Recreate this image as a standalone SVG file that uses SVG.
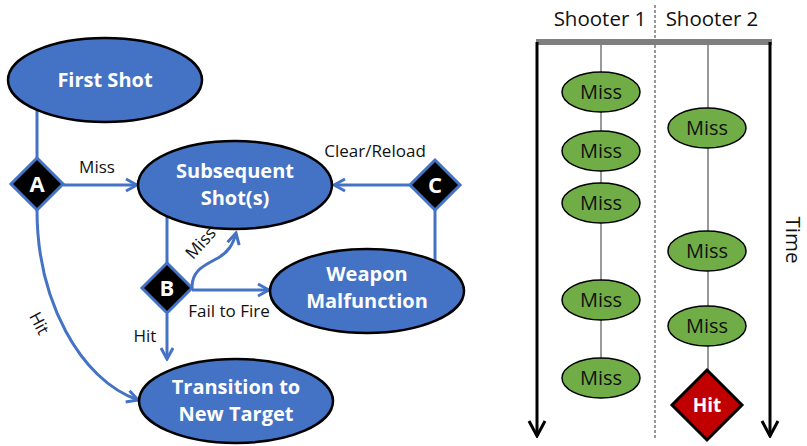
<svg xmlns="http://www.w3.org/2000/svg" width="807" height="446" viewBox="0 0 807 446">
<defs>
<marker id="ab" markerUnits="userSpaceOnUse" markerWidth="16" markerHeight="16" viewBox="0 0 16 16" refX="14" refY="8" orient="auto">
<path d="M3,2 L14,8 L3,14" fill="none" stroke="#4472C4" stroke-width="3"/>
</marker>
<marker id="ak" markerUnits="userSpaceOnUse" markerWidth="20" markerHeight="20" viewBox="0 0 20 20" refX="18" refY="10" orient="auto">
<path d="M3,2 L18,10 L3,18" fill="none" stroke="#000" stroke-width="3"/>
</marker>
</defs>
<style>
.bn{fill:#4472C4;stroke:#000;stroke-width:2.5}
.bt{font-family:"Open Sans","Noto Sans",sans-serif;font-weight:bold;font-size:20px;fill:#fff;text-anchor:middle}
.dm{fill:#000;stroke:#4472C4;stroke-width:3}
.dt{font-family:"Open Sans","Noto Sans",sans-serif;font-weight:bold;font-size:22px;fill:#fff;text-anchor:middle}
.lb{font-family:"Open Sans","Noto Sans",sans-serif;font-size:17px;fill:#111;text-anchor:middle}
.cn{fill:none;stroke:#4472C4;stroke-width:3}
.gn{fill:#70AD47;stroke:#000;stroke-width:1.5}
.gt{font-family:"Open Sans","Noto Sans",sans-serif;font-size:20px;fill:#111;text-anchor:middle}
.hd{font-family:"Open Sans","Noto Sans",sans-serif;font-size:20.5px;fill:#111;text-anchor:middle}
.tl{stroke:#555;stroke-width:1.2}
</style>
<rect width="807" height="446" fill="#fff"/>
<g id="connectors">
<path class="cn" d="M37,109 L37,158"/>
<path class="cn" d="M63,185 L137,185" marker-end="url(#ab)"/>
<path class="cn" d="M411,185 L334,185" marker-end="url(#ab)"/>
<path class="cn" d="M435,210 L435,261"/>
<path class="cn" d="M167,215 L167,264"/>
<path class="cn" d="M192,290 L269,290" marker-end="url(#ab)"/>
<path class="cn" d="M192,287 C192,270 205,265 218,258 C228,252 233,245 236,233" marker-end="url(#ab)"/>
<path class="cn" d="M167,314 L167,359" marker-end="url(#ab)"/>
<path class="cn" d="M37,210 C37,300 80,380 138,400" marker-end="url(#ab)"/>
<text class="lb" x="97" y="173">Miss</text>
<text class="lb" x="375" y="157">Clear/Reload</text>
<text class="lb" x="229" y="317">Fail to Fire</text>
<text class="lb" x="145" y="342">Hit</text>
<text class="lb" transform="translate(205,247) rotate(-48)">Miss</text>
<text class="lb" transform="translate(34,326) rotate(62)">Hit</text>
</g>
<g id="first-shot">
<ellipse class="bn" cx="105" cy="80" rx="97" ry="42"/>
<text class="bt" x="105" y="87">First Shot</text>
</g>
<g id="subsequent-shots">
<ellipse class="bn" cx="235" cy="185" rx="97" ry="44"/>
<text class="bt" x="235" y="178">Subsequent</text>
<text class="bt" x="235" y="205">Shot(s)</text>
</g>
<g id="weapon-malfunction">
<ellipse class="bn" cx="367" cy="291" rx="97" ry="42"/>
<text class="bt" x="367" y="281">Weapon</text>
<text class="bt" x="367" y="308">Malfunction</text>
</g>
<g id="transition">
<ellipse class="bn" cx="236" cy="401" rx="97" ry="42"/>
<text class="bt" x="236" y="394">Transition to</text>
<text class="bt" x="236" y="421">New Target</text>
</g>
<g id="decision-a">
<polygon class="dm" points="37,158 63,184 37,210 11,184"/>
<text class="dt" x="37" y="192">A</text>
</g>
<g id="decision-b">
<polygon class="dm" points="167,263 192,288 167,313 142,288"/>
<text class="dt" x="167" y="296">B</text>
</g>
<g id="decision-c">
<polygon class="dm" points="435,160 460,185 435,210 410,185"/>
<text class="dt" x="435" y="193">C</text>
</g>
<g id="timeline">
<text class="hd" x="600" y="26">Shooter 1</text>
<text class="hd" x="712" y="26">Shooter 2</text>
<line x1="655" y1="5" x2="655" y2="438" stroke="#333" stroke-width="1" stroke-dasharray="3,2"/>
<line x1="536" y1="42" x2="772" y2="42" stroke="#7F7F7F" stroke-width="6"/>
<line x1="537" y1="42" x2="537" y2="436" stroke="#000" stroke-width="3" marker-end="url(#ak)"/>
<line x1="770" y1="42" x2="770" y2="436" stroke="#000" stroke-width="3" marker-end="url(#ak)"/>
<text class="hd" transform="translate(786,240) rotate(90)" text-anchor="middle">Time</text>
<line class="tl" x1="601" y1="45" x2="601" y2="372"/>
<line class="tl" x1="708" y1="45" x2="708" y2="372"/>
</g>
<g id="s1-miss-1"><ellipse class="gn" cx="601" cy="92" rx="39" ry="20"/><text class="gt" x="601" y="99">Miss</text></g>
<g id="s1-miss-2"><ellipse class="gn" cx="601" cy="151" rx="39" ry="20"/><text class="gt" x="601" y="158">Miss</text></g>
<g id="s1-miss-3"><ellipse class="gn" cx="601" cy="203" rx="39" ry="20"/><text class="gt" x="601" y="210">Miss</text></g>
<g id="s1-miss-4"><ellipse class="gn" cx="601" cy="300" rx="39" ry="20"/><text class="gt" x="601" y="307">Miss</text></g>
<g id="s1-miss-5"><ellipse class="gn" cx="601" cy="378" rx="39" ry="20"/><text class="gt" x="601" y="385">Miss</text></g>
<g id="s2-miss-1"><ellipse class="gn" cx="707" cy="128" rx="39" ry="20"/><text class="gt" x="707" y="135">Miss</text></g>
<g id="s2-miss-2"><ellipse class="gn" cx="707" cy="251" rx="39" ry="20"/><text class="gt" x="707" y="258">Miss</text></g>
<g id="s2-miss-3"><ellipse class="gn" cx="707" cy="326" rx="39" ry="20"/><text class="gt" x="707" y="333">Miss</text></g>
<g id="s2-hit">
<polygon points="707,370 742,405 707,440 672,405" fill="#C00000" stroke="#000" stroke-width="3"/>
<text x="707" y="412" font-family="Open Sans, Noto Sans, sans-serif" font-weight="bold" font-size="19" fill="#fff" text-anchor="middle">Hit</text>
</g>
</svg>
